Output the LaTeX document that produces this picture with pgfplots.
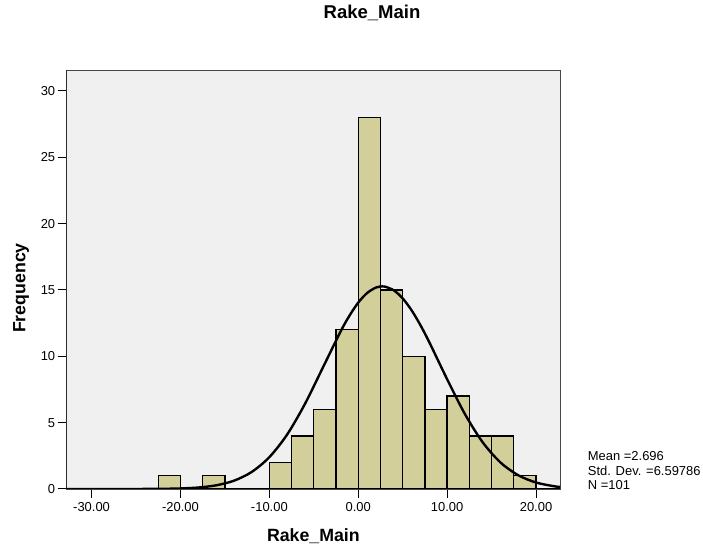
\documentclass[border=0pt]{standalone}
\usepackage{fontspec}
\setmainfont{Liberation Sans}
\usepackage{pgfplots}
\pgfplotsset{compat=1.18}
\definecolor{barfill}{RGB}{211,207,155}
\definecolor{plotbg}{RGB}{240,240,240}
\definecolor{framegray}{RGB}{70,70,70}
\begin{document}
\begin{tikzpicture}[x=1bp,y=1bp]
\useasboundingbox (0,0) rectangle (703,548);
\begin{axis}[
  at={(66.7bp,59bp)}, anchor=south west,
  scale only axis, width=493.3bp, height=419bp,
  xmin=-32.8, xmax=22.7, ymin=0, ymax=31.58,
  axis background/.style={fill=plotbg},
  axis line style={draw=framegray, line width=0.8pt},
  xtick={-30,-20,-10,0,10,20},
  ytick={0,5,10,15,20,25,30},
  tick align=outside, tick pos=left,
  major tick length=9bp,
  tick style={black, line width=1pt},
  /pgf/number format/assume math mode=true,
  xticklabel style={font=\fontsize{13}{15}\selectfont, yshift=-1bp, /pgf/number format/fixed, /pgf/number format/fixed zerofill, /pgf/number format/precision=2},
  yticklabel style={font=\fontsize{13}{15}\selectfont, xshift=1bp},
  xlabel={Rake\_Main},
  xlabel style={font=\bfseries\fontsize{17.8}{20}\selectfont, at={(axis description cs:0.5,-0.1258)}, anchor=base},
  ylabel={Frequency},
  ylabel style={font=\bfseries\fontsize{17.8}{20}\selectfont, at={(axis description cs:-0.0926,0.4797)}, anchor=center},
  title={Rake\_Main},
  title style={font=\bfseries\fontsize{18.6}{21}\selectfont, at={(axis description cs:0.619,1.1098)}, anchor=base},
  clip=true,
]
\addplot[ybar interval, fill=barfill, draw=black, line width=1.3pt] coordinates {
(-22.5,1) (-20,0) (-17.5,1) (-15,0) (-12.5,0) (-10,2) (-7.5,4) (-5,6) (-2.5,12)
(0,28) (2.5,15) (5,10) (7.5,6) (10,7) (12.5,4) (15,4) (17.5,1) (20,1)
};
\addplot[black, line width=2.4pt, smooth, no markers] coordinates {
(-33,0.0000) (-32,0.0000) (-28,0.0003) (-24,0.0043) (-22,0.0139) (-20,0.041) (-18,0.111)
(-16,0.275) (-14,0.621) (-12,1.278) (-10,2.399) (-8,4.103) (-6,6.407) (-4,9.124)
(-2,11.853) (-1,13.05) (0,14.047) (1,14.774) (2,15.185) (2.696,15.27) (3,15.254) (4,14.975)
(5,14.366) (6,13.470) (7,12.343) (8,11.054) (10,8.273) (12,5.650) (14,3.520)
(16,2.000) (18,1.037) (20,0.490) (22,0.211) (23,0.134)
};
\draw[black, line width=2.2pt] (axis cs:-32.8,0) -- (axis cs:22.7,0);
\draw[black, line width=1.3pt] (axis cs:-32.8,0) -- (axis cs:-32.8,31.58);
\end{axis}
\node[anchor=base west, font=\fontsize{13}{15}\selectfont, inner sep=0] at (587.7,87) {Mean =2.696};
\node[anchor=base west, font=\fontsize{13}{15}\selectfont, inner sep=0] at (587.7,72.5) {Std. Dev. =6.59786};
\node[anchor=base west, font=\fontsize{13}{15}\selectfont, inner sep=0] at (587.7,58) {N =101};
\end{tikzpicture}
\end{document}
